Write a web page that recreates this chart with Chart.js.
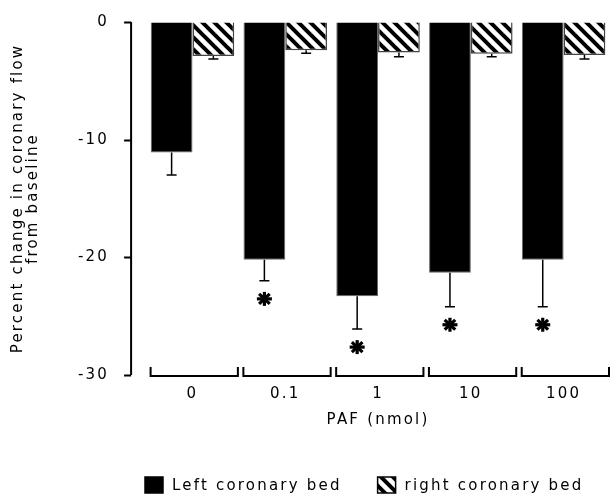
<!DOCTYPE html>
<html>
<head>
<meta charset="utf-8">
<script src="https://cdn.jsdelivr.net/npm/chart.js@4/dist/chart.umd.min.js"></script>
<style>
  html, body { margin: 0; padding: 0; background: #fff; }
  #wrap { width: 610px; height: 495px; }
</style>
</head>
<body>
<div id="wrap"><canvas id="chart"></canvas></div>
<script>
var doses = ['0', '0.1', '1', '10', '100'];
var leftBed = [-11.1, -20.2, -23.3, -21.3, -20.2];
var leftErr = [-13.0, -22.0, -26.1, -24.2, -24.2];
var rightBed = [-2.9, -2.4, -2.6, -2.7, -2.8];
var rightErr = [-3.15, -2.65, -2.95, -2.95, -3.15];
var significant = [false, true, true, true, true];
var yTicks = [0, -10, -20, -30];

Chart.defaults.font.family = 'DejaVu Sans';
Chart.defaults.font.size = 15;
Chart.defaults.color = '#000';

// diagonal hatch for the right coronary bed
function hatch() {
  var c = document.createElement('canvas');
  c.width = 12; c.height = 12;
  var g = c.getContext('2d');
  g.fillStyle = '#fff';
  g.fillRect(0, 0, 12, 12);
  g.strokeStyle = '#000';
  g.lineWidth = 4;
  [-12, 0, 12].forEach(function (o) {
    g.beginPath();
    g.moveTo(o - 2, -2);
    g.lineTo(o + 14, 14);
    g.stroke();
  });
  return g.createPattern(c, 'repeat');
}
var stripes = hatch();

var errs = [leftErr, rightErr];

// wider lettering, like the bitmap font of the original
var spacing = {
  id: 'spacing',
  beforeUpdate: function (chart) { chart.ctx.letterSpacing = '2.2px'; },
  beforeDraw: function (chart) { chart.ctx.letterSpacing = '2.2px'; }
};

var extras = {
  id: 'extras',
  afterDatasetsDraw: function (chart) {
    var ctx = chart.ctx, y = chart.scales.y;
    ctx.save();
    ctx.strokeStyle = '#000';
    ctx.lineWidth = 1.5;
    // error bars (downward only)
    errs.forEach(function (err, di) {
      chart.getDatasetMeta(di).data.forEach(function (bar, i) {
        var y2 = y.getPixelForValue(err[i]);
        ctx.beginPath();
        ctx.moveTo(bar.x, bar.y);
        ctx.lineTo(bar.x, y2);
        ctx.moveTo(bar.x - 5, y2);
        ctx.lineTo(bar.x + 5, y2);
        ctx.stroke();
      });
    });
    // asterisks
    ctx.lineWidth = 3.2;
    chart.getDatasetMeta(0).data.forEach(function (bar, i) {
      if (!significant[i]) return;
      var cx = bar.x, cy = y.getPixelForValue(leftErr[i]) + 18;
      for (var k = 0; k < 4; k++) {
        var a = k * Math.PI / 4;
        ctx.beginPath();
        ctx.moveTo(cx - 7.5 * Math.cos(a), cy - 7 * Math.sin(a));
        ctx.lineTo(cx + 7.5 * Math.cos(a), cy + 7 * Math.sin(a));
        ctx.stroke();
      }
    });
    // y axis line with ticks
    var ax = chart.chartArea.left - 15;
    ctx.lineWidth = 2;
    ctx.beginPath();
    ctx.moveTo(ax, y.getPixelForValue(0));
    ctx.lineTo(ax, y.getPixelForValue(-30));
    yTicks.forEach(function (t) {
      var ty = Math.round(y.getPixelForValue(t)) + 0.5;
      ctx.moveTo(ax - 7, ty);
      ctx.lineTo(ax, ty);
    });
    ctx.stroke();
    // bracket under each category
    var step = (chart.chartArea.right - chart.chartArea.left) / doses.length;
    var by = chart.chartArea.bottom + 1;
    ctx.lineWidth = 2;
    doses.forEach(function (d, i) {
      var l = chart.chartArea.left + i * step + 4.5;
      var r = chart.chartArea.left + (i + 1) * step - 1;
      ctx.beginPath();
      ctx.moveTo(l, by - 9);
      ctx.lineTo(l, by);
      ctx.lineTo(r, by);
      ctx.lineTo(r, by - 9);
      ctx.stroke();
    });
    // legend
    ctx.font = '15px "DejaVu Sans"';
    ctx.fillStyle = '#000';
    ctx.textBaseline = 'middle';
    var lx = 145, ly = chart.height - 10;
    chart.data.datasets.forEach(function (ds) {
      ctx.fillStyle = ds.backgroundColor;
      ctx.fillRect(lx, ly - 8, 18, 16);
      ctx.lineWidth = 1.5;
      ctx.strokeRect(lx, ly - 8, 18, 16);
      ctx.fillStyle = '#000';
      ctx.fillText(ds.label, lx + 27, ly + 1);
      lx += 27 + ctx.measureText(ds.label).width + 36;
    });
    ctx.restore();
  }
};

new Chart(document.getElementById('chart'), {
  type: 'bar',
  data: {
    labels: doses,
    datasets: [{
      label: 'Left coronary bed',
      data: leftBed,
      backgroundColor: '#000',
      borderColor: '#666',
      borderWidth: 1
    }, {
      label: 'right coronary bed',
      data: rightBed,
      backgroundColor: stripes,
      borderColor: '#444',
      borderWidth: 1.5
    }]
  },
  options: {
    responsive: true,
    maintainAspectRatio: false,
    animation: false,
    categoryPercentage: 0.9,
    barPercentage: 1,
    layout: { padding: { top: 22, right: 0, left: 11, bottom: 66 } },
    plugins: {
      tooltip: { enabled: false },
      legend: { display: false }
    },
    scales: {
      x: {
        grid: { display: false, drawTicks: false },
        border: { display: false },
        ticks: { padding: 10 },
        title: { display: true, text: 'PAF (nmol)', padding: { top: -2, bottom: 0 } }
      },
      y: {
        min: -30,
        max: 0,
        grid: { display: true, drawOnChartArea: false, drawTicks: true, tickLength: 32, color: 'rgba(0,0,0,0)' },
        border: { display: false },
        ticks: { stepSize: 10, padding: 5 },
        afterFit: function (scale) { scale.width += 32; },
        title: {
          display: true,
          text: ['Percent change in coronary flow', 'from baseline'],
          font: { size: 15, lineHeight: 1.0 },
          padding: { top: 0, bottom: 0 }
        }
      }
    }
  },
  plugins: [spacing, extras]
});
</script>
</body>
</html>
